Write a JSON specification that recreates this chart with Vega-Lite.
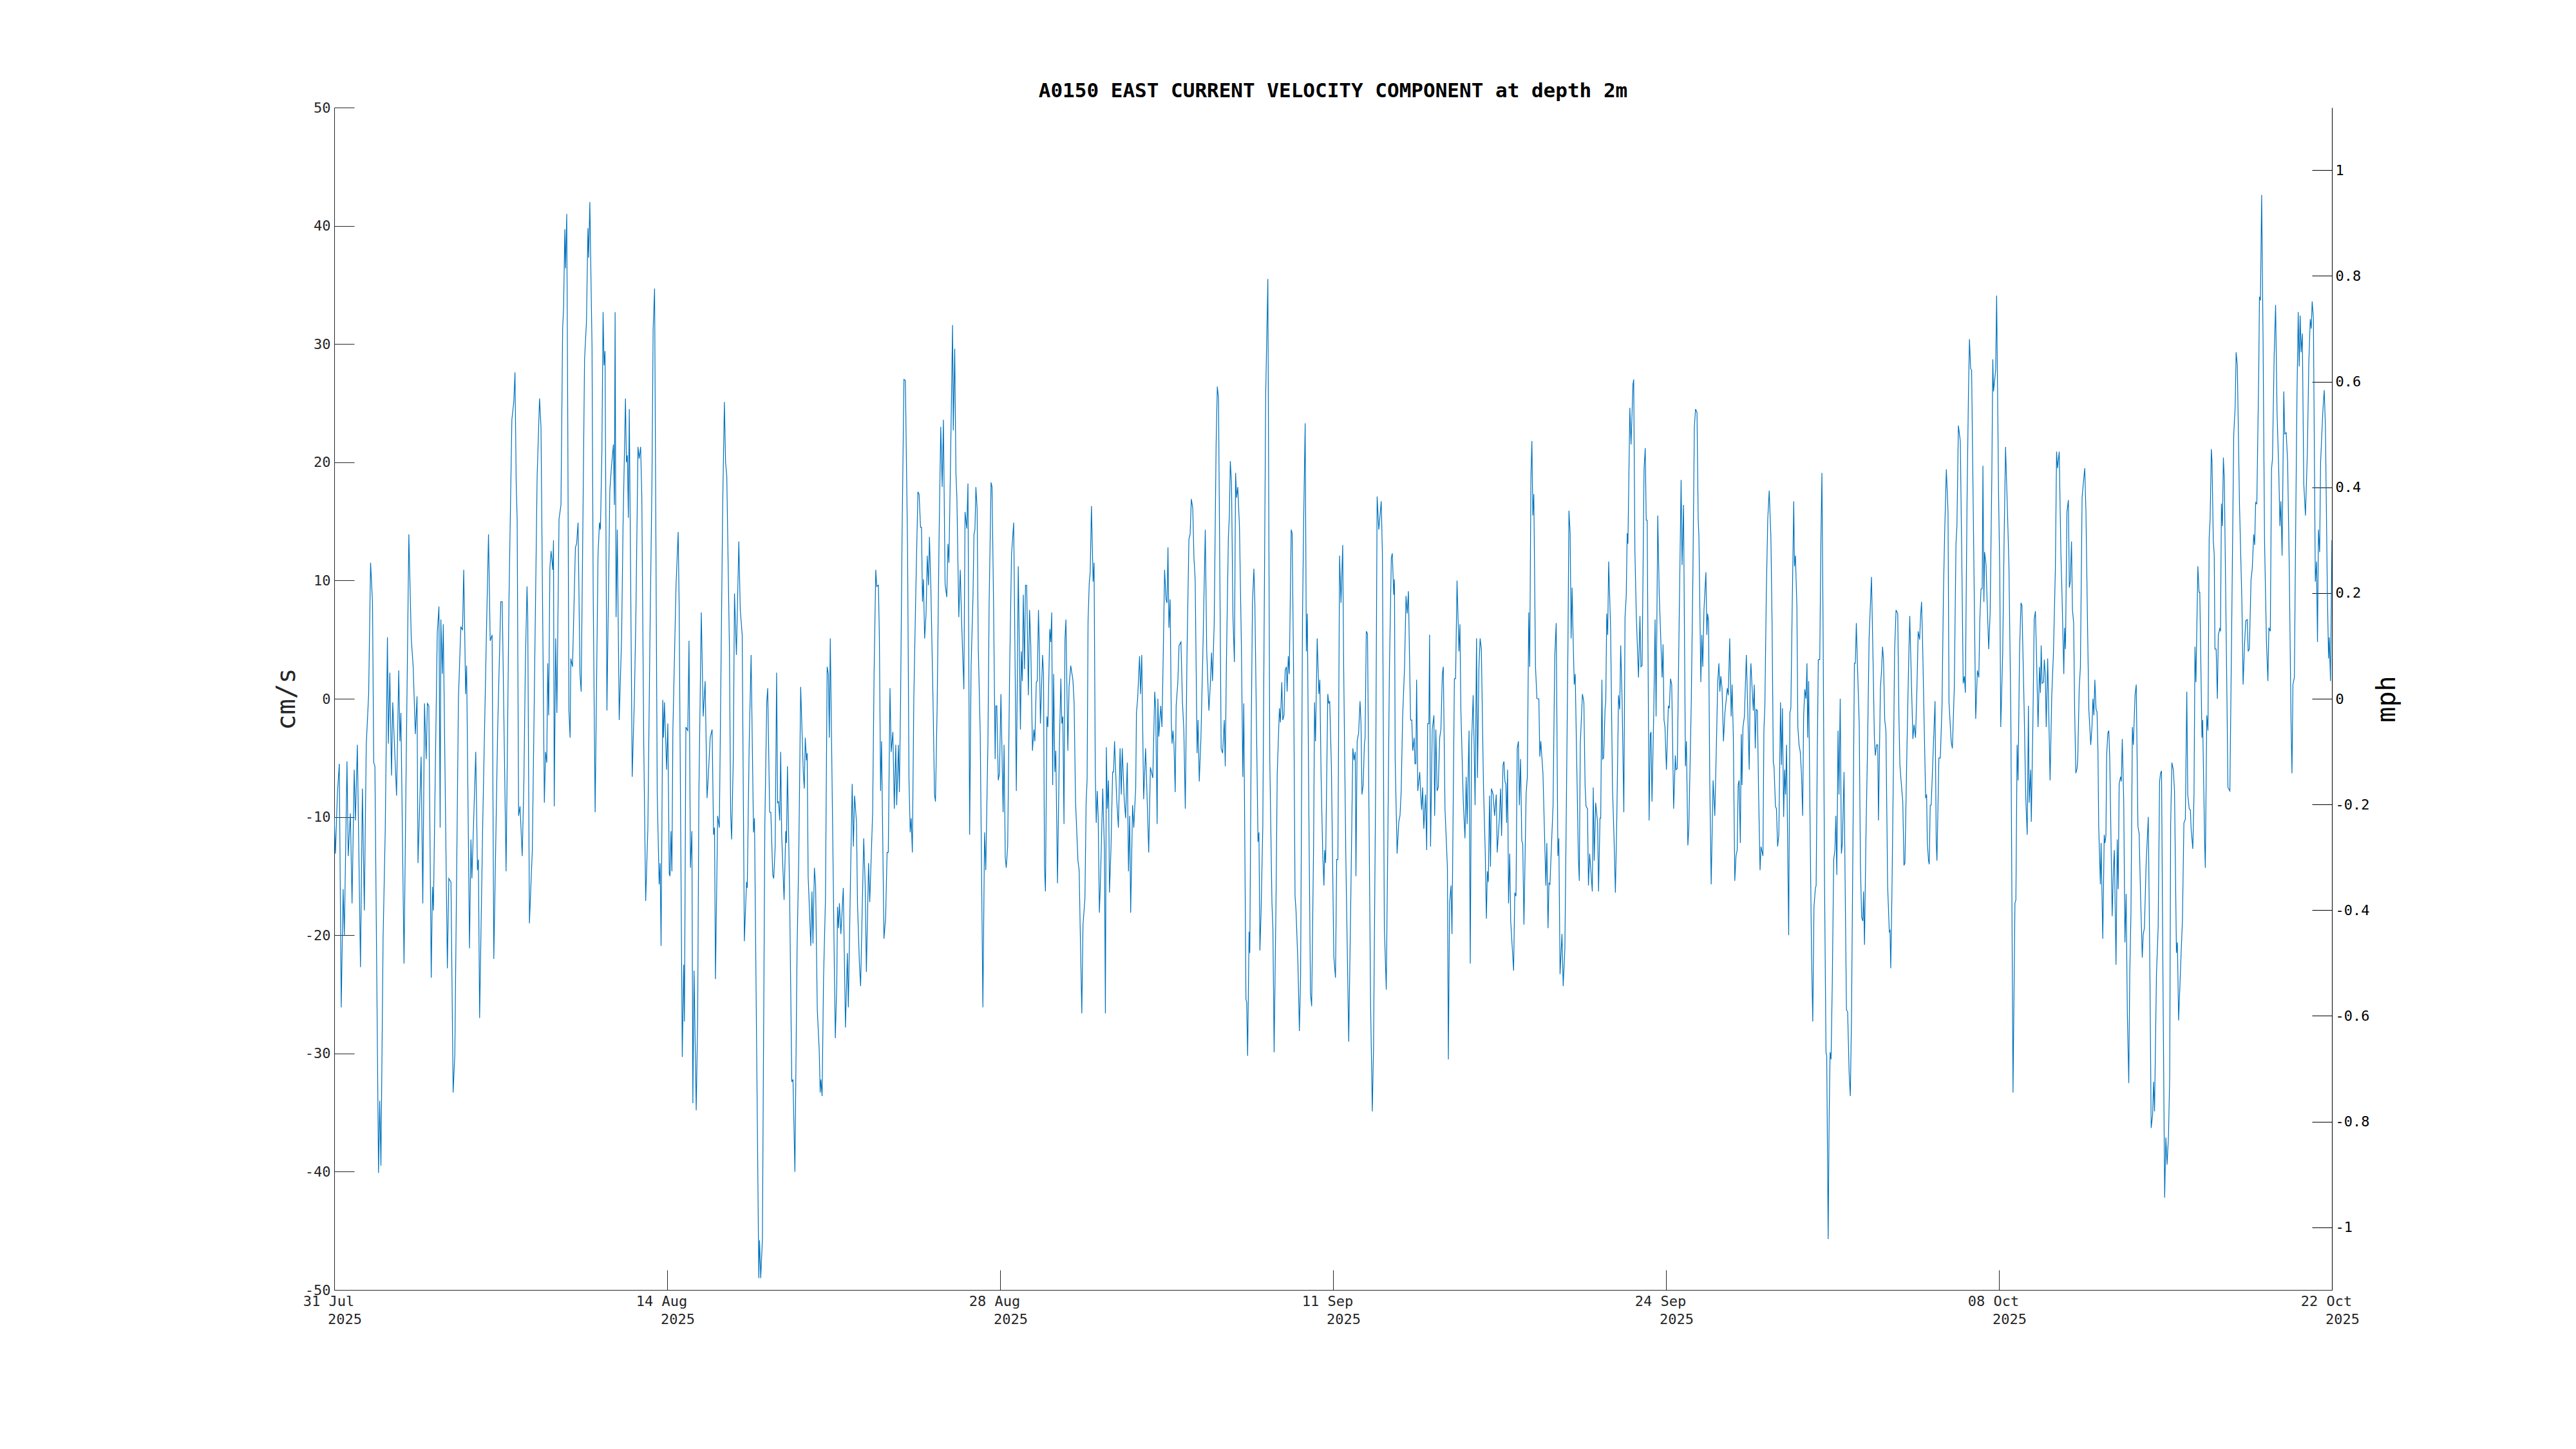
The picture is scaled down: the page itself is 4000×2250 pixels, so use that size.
{
"$schema": "https://vega.github.io/schema/vega-lite/v6.json",
"autosize": {"type": "none"},
"padding": {"left": 519, "top": 167, "right": 379, "bottom": 247},
"width": 3102,
"height": 1836,
"background": "white",
"title": {"text": "A0150 EAST CURRENT VELOCITY COMPONENT at depth 2m", "font": "DejaVu Sans Mono", "fontSize": 31, "fontWeight": "bold", "color": "#000000", "anchor": "middle", "frame": "group", "baseline": "alphabetic", "offset": -26},
"config": {"view": {"stroke": null}, "axis": {"grid": false, "labelOverlap": false, "labelBound": false, "labelFlush": false}},
"data": {"values": [
{"day":0,"v":-10},{"day":0.05,"v":-13.1},{"day":0.13,"v":-8.1},{"day":0.21,"v":-5.5},{"day":0.29,"v":-26.1},{"day":0.37,"v":-16.1},{"day":0.42,"v":-20},{"day":0.53,"v":-5.3},{"day":0.58,"v":-13.3},{"day":0.67,"v":-9.7},{"day":0.74,"v":-17.3},{"day":0.83,"v":-6.0},{"day":0.88,"v":-10.3},{"day":0.96,"v":-3.9},{"day":1.09,"v":-22.7},{"day":1.17,"v":-7.6},{"day":1.25,"v":-17.9},{"day":1.33,"v":-3.9},{"day":1.43,"v":0.4},{"day":1.51,"v":11.5},{"day":1.59,"v":8.2},{"day":1.64,"v":-5.4},{"day":1.69,"v":-5.7},{"day":1.84,"v":-40.1},{"day":1.89,"v":-34.0},{"day":1.94,"v":-39.5},{"day":2.03,"v":-20.3},{"day":2.12,"v":-11.0},{"day":2.21,"v":5.2},{"day":2.25,"v":-3.8},{"day":2.31,"v":2.2},{"day":2.38,"v":-6.5},{"day":2.43,"v":-0.3},{"day":2.59,"v":-8.2},{"day":2.68,"v":2.4},{"day":2.73,"v":-3.6},{"day":2.77,"v":-1.2},{"day":2.90,"v":-22.4},{"day":2.99,"v":-5.4},{"day":3.10,"v":13.9},{"day":3.20,"v":5.1},{"day":3.28,"v":2.7},{"day":3.37,"v":-3.0},{"day":3.44,"v":0.2},{"day":3.48,"v":-13.9},{"day":3.61,"v":-4.9},{"day":3.68,"v":-17.3},{"day":3.75,"v":-0.4},{"day":3.82,"v":-5.1},{"day":3.87,"v":-0.4},{"day":3.93,"v":-0.6},{"day":4.03,"v":-23.6},{"day":4.08,"v":-15.9},{"day":4.12,"v":-17.9},{"day":4.20,"v":-6.0},{"day":4.28,"v":5.5},{"day":4.35,"v":7.8},{"day":4.40,"v":-10.9},{"day":4.43,"v":6.7},{"day":4.49,"v":2.1},{"day":4.53,"v":6.3},{"day":4.70,"v":-22.8},{"day":4.76,"v":-15.2},{"day":4.85,"v":-15.5},{"day":4.94,"v":-33.3},{"day":5.01,"v":-30.1},{"day":5.16,"v":0.0},{"day":5.26,"v":6.1},{"day":5.33,"v":5.8},{"day":5.38,"v":10.9},{"day":5.46,"v":0.4},{"day":5.50,"v":2.8},{"day":5.62,"v":-21.1},{"day":5.68,"v":-11.9},{"day":5.72,"v":-15.2},{"day":5.88,"v":-4.5},{"day":5.95,"v":-14.5},{"day":5.99,"v":-13.6},{"day":6.04,"v":-27.0},{"day":6.17,"v":-10.5},{"day":6.32,"v":5.2},{"day":6.41,"v":13.9},{"day":6.48,"v":4.9},{"day":6.56,"v":5.4},{"day":6.63,"v":-22.0},{"day":6.79,"v":-2.6},{"day":6.92,"v":8.2},{"day":6.98,"v":8.2},{"day":7.14,"v":-14.6},{"day":7.26,"v":8.3},{"day":7.38,"v":23.6},{"day":7.46,"v":25.1},{"day":7.51,"v":27.6},{"day":7.56,"v":18.2},{"day":7.60,"v":15.2},{"day":7.66,"v":-9.9},{"day":7.72,"v":-9.1},{"day":7.81,"v":-13.3},{"day":7.88,"v":-7.0},{"day":7.94,"v":2.8},{"day":8.01,"v":9.5},{"day":8.04,"v":6.9},{"day":8.11,"v":-19.0},{"day":8.23,"v":-12.8},{"day":8.43,"v":18.8},{"day":8.53,"v":25.4},{"day":8.59,"v":23.0},{"day":8.73,"v":-8.8},{"day":8.78,"v":-4.5},{"day":8.83,"v":-5.4},{"day":8.87,"v":3.0},{"day":8.91,"v":-1.4},{"day":8.96,"v":11.1},{"day":9.01,"v":12.5},{"day":9.08,"v":10.9},{"day":9.11,"v":13.4},{"day":9.14,"v":-9.1},{"day":9.20,"v":5.1},{"day":9.25,"v":-1.2},{"day":9.34,"v":15.2},{"day":9.42,"v":16.4},{"day":9.49,"v":31.3},{"day":9.53,"v":33.1},{"day":9.58,"v":39.7},{"day":9.61,"v":36.4},{"day":9.66,"v":41.0},{"day":9.70,"v":24.8},{"day":9.75,"v":-1.0},{"day":9.80,"v":-3.3},{"day":9.83,"v":3.4},{"day":9.90,"v":2.7},{"day":10.02,"v":12.8},{"day":10.07,"v":13.1},{"day":10.13,"v":14.9},{"day":10.21,"v":2.1},{"day":10.26,"v":0.6},{"day":10.40,"v":28.7},{"day":10.48,"v":31.9},{"day":10.54,"v":39.8},{"day":10.57,"v":37.3},{"day":10.62,"v":42.0},{"day":10.71,"v":29.8},{"day":10.76,"v":8.7},{"day":10.84,"v":-9.6},{"day":10.96,"v":12.2},{"day":11.02,"v":14.9},{"day":11.06,"v":14.3},{"day":11.12,"v":20.9},{"day":11.17,"v":32.7},{"day":11.21,"v":28.2},{"day":11.25,"v":29.4},{"day":11.33,"v":-1.0},{"day":11.45,"v":17.6},{"day":11.52,"v":19.7},{"day":11.60,"v":21.5},{"day":11.64,"v":16.4},{"day":11.67,"v":32.7},{"day":11.71,"v":6.9},{"day":11.76,"v":14.3},{"day":11.84,"v":-1.8},{"day":11.94,"v":5.2},{"day":12.00,"v":14.7},{"day":12.10,"v":25.4},{"day":12.14,"v":20.0},{"day":12.18,"v":20.6},{"day":12.22,"v":15.3},{"day":12.26,"v":24.5},{"day":12.38,"v":-6.6},{"day":12.47,"v":0.0},{"day":12.53,"v":6.6},{"day":12.62,"v":21.3},{"day":12.67,"v":20.3},{"day":12.73,"v":21.3},{"day":12.78,"v":17.0},{"day":12.86,"v":-3.9},{"day":12.94,"v":-17.1},{"day":13.03,"v":-11.0},{"day":13.12,"v":5.7},{"day":13.20,"v":18.2},{"day":13.25,"v":31.3},{"day":13.31,"v":34.7},{"day":13.42,"v":-8.1},{"day":13.50,"v":-15.7},{"day":13.54,"v":-13.9},{"day":13.58,"v":-20.9},{"day":13.65,"v":-0.1},{"day":13.68,"v":-3.3},{"day":13.72,"v":-0.3},{"day":13.81,"v":-6.0},{"day":13.86,"v":-2.1},{"day":13.92,"v":-14.8},{"day":13.95,"v":-15.0},{"day":13.99,"v":-11.2},{"day":14.03,"v":-14.6},{"day":14.07,"v":-2.7},{"day":14.20,"v":9.5},{"day":14.29,"v":14.1},{"day":14.33,"v":8.0},{"day":14.46,"v":-30.3},{"day":14.52,"v":-22.5},{"day":14.55,"v":-27.3},{"day":14.61,"v":-2.4},{"day":14.69,"v":-2.7},{"day":14.74,"v":4.9},{"day":14.80,"v":-14.3},{"day":14.86,"v":-11.2},{"day":14.90,"v":-34.2},{"day":14.95,"v":-23.0},{"day":15.04,"v":-34.8},{"day":15.10,"v":-26.9},{"day":15.15,"v":-8.1},{"day":15.25,"v":7.3},{"day":15.33,"v":-1.5},{"day":15.41,"v":1.5},{"day":15.49,"v":-8.4},{"day":15.53,"v":-7.0},{"day":15.62,"v":-3.3},{"day":15.70,"v":-2.6},{"day":15.76,"v":-11.5},{"day":15.80,"v":-10.9},{"day":15.84,"v":-23.7},{"day":15.93,"v":-9.9},{"day":16.00,"v":-10.9},{"day":16.14,"v":16.4},{"day":16.21,"v":25.1},{"day":16.26,"v":20.0},{"day":16.31,"v":18.8},{"day":16.42,"v":4.2},{"day":16.47,"v":-9.7},{"day":16.51,"v":-11.9},
{"day":16.58,"v":-5.1},{"day":16.63,"v":8.9},{"day":16.71,"v":3.7},{"day":16.81,"v":13.3},{"day":16.87,"v":7.5},{"day":16.95,"v":5.4},{"day":17.04,"v":-20.5},{"day":17.13,"v":-15.5},{"day":17.16,"v":-16.0},{"day":17.24,"v":-3.9},{"day":17.32,"v":3.7},{"day":17.42,"v":-11.3},{"day":17.46,"v":-10.1},{"day":17.64,"v":-49.0},{"day":17.67,"v":-45.8},{"day":17.72,"v":-49.0},{"day":17.79,"v":-45.7},{"day":17.89,"v":-10.8},{"day":17.97,"v":-0.3},{"day":18.01,"v":0.9},{"day":18.09,"v":-9.6},{"day":18.14,"v":-9.6},{"day":18.22,"v":-14.9},{"day":18.26,"v":-15.2},{"day":18.32,"v":-12.5},{"day":18.38,"v":2.2},{"day":18.42,"v":-8.8},{"day":18.46,"v":-8.7},{"day":18.51,"v":-10.3},{"day":18.55,"v":-4.5},{"day":18.59,"v":-11.5},{"day":18.69,"v":-17.0},{"day":18.76,"v":-11.2},{"day":18.79,"v":-12.2},{"day":18.83,"v":-5.7},{"day":18.92,"v":-16.4},{"day":19.01,"v":-32.4},{"day":19.06,"v":-32.2},{"day":19.14,"v":-40.0},{"day":19.23,"v":-21.2},{"day":19.30,"v":-13.4},{"day":19.38,"v":1.0},{"day":19.49,"v":-6.3},{"day":19.53,"v":-7.6},{"day":19.57,"v":-3.3},{"day":19.62,"v":-5.2},{"day":19.65,"v":-4.6},{"day":19.69,"v":-15.0},{"day":19.74,"v":-17.6},{"day":19.80,"v":-20.9},{"day":19.85,"v":-16.3},{"day":19.89,"v":-20.7},{"day":19.95,"v":-14.3},{"day":20.00,"v":-15.8},{"day":20.07,"v":-26.3},{"day":20.15,"v":-29.7},{"day":20.19,"v":-33.3},{"day":20.22,"v":-32.2},{"day":20.27,"v":-33.6},{"day":20.33,"v":-23.6},{"day":20.41,"v":-16.9},{"day":20.48,"v":2.7},{"day":20.53,"v":2.1},{"day":20.57,"v":-3.3},{"day":20.61,"v":5.1},{"day":20.71,"v":-11.3},{"day":20.78,"v":-23.0},{"day":20.82,"v":-28.7},{"day":20.88,"v":-24.1},{"day":20.91,"v":-17.6},{"day":20.95,"v":-19.4},{"day":20.99,"v":-17.3},{"day":21.05,"v":-19.9},{"day":21.15,"v":-16.0},{"day":21.24,"v":-27.8},{"day":21.32,"v":-21.5},{"day":21.36,"v":-26.1},{"day":21.45,"v":-15.2},{"day":21.52,"v":-7.2},{"day":21.57,"v":-12.5},{"day":21.62,"v":-8.2},{"day":21.70,"v":-10.5},{"day":21.74,"v":-17.3},{"day":21.82,"v":-22.4},{"day":21.87,"v":-24.3},{"day":21.92,"v":-19.4},{"day":22.00,"v":-11.8},{"day":22.06,"v":-15.8},{"day":22.11,"v":-23.1},{"day":22.20,"v":-13.9},{"day":22.25,"v":-17.2},{"day":22.37,"v":-9.6},{"day":22.43,"v":2.2},{"day":22.50,"v":10.9},{"day":22.54,"v":9.5},{"day":22.61,"v":9.6},{"day":22.65,"v":5.1},{"day":22.70,"v":-7.8},{"day":22.74,"v":-3.6},{"day":22.84,"v":-20.3},{"day":22.91,"v":-18.5},{"day":22.97,"v":-13.0},{"day":23.02,"v":-13.0},{"day":23.09,"v":0.9},{"day":23.14,"v":-4.5},{"day":23.21,"v":-2.8},{"day":23.27,"v":-9.3},{"day":23.33,"v":-3.9},{"day":23.37,"v":-9.0},{"day":23.44,"v":-3.9},{"day":23.48,"v":-7.9},{"day":23.53,"v":-0.3},{"day":23.59,"v":13.4},{"day":23.67,"v":27.0},{"day":23.73,"v":26.9},{"day":23.82,"v":12.8},{"day":23.88,"v":-6.9},{"day":23.93,"v":-11.3},{"day":23.97,"v":-10.1},{"day":24.02,"v":-13.0},{"day":24.08,"v":0.0},{"day":24.16,"v":8.7},{"day":24.25,"v":17.5},{"day":24.30,"v":17.3},{"day":24.36,"v":14.5},{"day":24.40,"v":14.5},{"day":24.44,"v":8.2},{"day":24.48,"v":10.1},{"day":24.53,"v":5.1},{"day":24.59,"v":7.2},{"day":24.64,"v":12.1},{"day":24.69,"v":9.6},{"day":24.73,"v":13.7},{"day":24.79,"v":9.3},{"day":24.88,"v":-0.3},{"day":24.94,"v":-8.1},{"day":24.98,"v":-8.7},{"day":25.05,"v":-0.6},{"day":25.13,"v":13.7},{"day":25.20,"v":23.0},{"day":25.26,"v":17.9},{"day":25.31,"v":23.6},{"day":25.38,"v":9.7},{"day":25.45,"v":8.6},{"day":25.50,"v":13.1},{"day":25.54,"v":11.5},{"day":25.61,"v":20.6},{"day":25.69,"v":31.6},{"day":25.72,"v":22.7},{"day":25.78,"v":29.6},{"day":25.83,"v":19.1},{"day":25.87,"v":17.0},{"day":25.95,"v":6.9},{"day":26.01,"v":10.9},{"day":26.07,"v":6.3},{"day":26.16,"v":0.8},{"day":26.21,"v":15.8},{"day":26.28,"v":14.4},{"day":26.33,"v":18.2},{"day":26.40,"v":-11.5},{"day":26.46,"v":2.7},{"day":26.54,"v":8.7},{"day":26.58,"v":13.9},{"day":26.62,"v":14.3},{"day":26.66,"v":17.9},{"day":26.71,"v":16.1},{"day":26.76,"v":4.2},{"day":26.84,"v":-3.0},{"day":26.95,"v":-26.1},{"day":27.02,"v":-11.3},{"day":27.07,"v":-14.5},{"day":27.16,"v":-3.6},{"day":27.21,"v":8.1},{"day":27.29,"v":18.3},{"day":27.33,"v":17.9},{"day":27.39,"v":8.7},{"day":27.46,"v":-5.1},{"day":27.49,"v":-0.6},{"day":27.53,"v":-0.6},{"day":27.59,"v":-6.9},{"day":27.64,"v":-6.3},{"day":27.70,"v":0.4},{"day":27.79,"v":-9.6},{"day":27.83,"v":-3.9},{"day":27.88,"v":-13.4},{"day":27.92,"v":-14.3},{"day":27.98,"v":-12.5},{"day":28.06,"v":2.1},{"day":28.14,"v":12.2},{"day":28.23,"v":14.9},{"day":28.34,"v":-7.8},{"day":28.42,"v":11.2},{"day":28.51,"v":-2.6},{"day":28.55,"v":4.0},{"day":28.59,"v":1.5},{"day":28.63,"v":8.8},{"day":28.68,"v":2.5},{"day":28.72,"v":9.6},{"day":28.77,"v":9.6},{"day":28.84,"v":0.3},{"day":28.89,"v":7.5},{"day":28.94,"v":4.5},{"day":29.01,"v":-4.4},{"day":29.07,"v":-2.6},{"day":29.11,"v":-3.6},{"day":29.17,"v":1.4},{"day":29.21,"v":1.5},{"day":29.26,"v":7.5},{"day":29.30,"v":3.9},{"day":29.34,"v":-2.1},{"day":29.43,"v":3.7},{"day":29.47,"v":2.1},{"day":29.51,"v":-14.3},{"day":29.55,"v":-16.3},{"day":29.61,"v":-1.5},{"day":29.65,"v":-2.4},{"day":29.73,"v":5.9},{"day":29.77,"v":4.8},{"day":29.81,"v":7.3},{"day":29.85,"v":-7.3},{"day":29.89,"v":2.1},{"day":29.94,"v":-6.2},{"day":29.98,"v":-4.4},{"day":30.05,"v":-15.6},{"day":30.13,"v":-3.9},{"day":30.19,"v":1.7},{"day":30.23,"v":-2.1},{"day":30.27,"v":-1.5},{"day":30.32,"v":-10.6},{"day":30.36,"v":5.0},{"day":30.40,"v":6.7},{"day":30.48,"v":-4.4},{"day":30.53,"v":1.0},{"day":30.60,"v":2.8},{"day":30.69,"v":1.6},{"day":30.74,"v":-0.3},{"day":30.80,"v":-8.7},{"day":30.90,"v":-13.7},{"day":30.95,"v":-14.5},{"day":30.99,"v":-19.1},{"day":31.06,"v":-26.6},{"day":31.11,"v":-19.1},{"day":31.19,"v":-16.9},{"day":31.24,"v":-8.7},{"day":31.28,"v":-6.9},{"day":31.32,"v":6.6},{"day":31.37,"v":9.8},{"day":31.41,"v":10.7},{"day":31.46,"v":16.3},{"day":31.53,"v":9.9},{"day":31.57,"v":11.5},{"day":31.62,"v":-6.3},{"day":31.66,"v":-10.5},{"day":31.70,"v":-7.8},{"day":31.74,"v":-9.9},{"day":31.79,"v":-18.1},{"day":31.83,"v":-15.8},{"day":31.93,"v":-7.6},{"day":32.00,"v":-12.8},{"day":32.04,"v":-26.6},{"day":32.08,"v":-4.1},{"day":32.12,"v":-9.3},{"day":32.17,"v":-6.9},{"day":32.21,"v":-16.4},{"day":32.27,"v":-12.8},{"day":32.34,"v":-6.2},{"day":32.38,"v":-6.2},{"day":32.42,"v":-3.6},{"day":32.51,"v":-8.5},{"day":32.58,"v":-10.9},{"day":32.65,"v":-4.2},{"day":32.70,"v":-8.1},{"day":32.74,"v":-4.2},{"day":32.82,"v":-8.4},{"day":32.88,"v":-10.1},{"day":32.95,"v":-5.4},{"day":33.00,"v":-14.6},{"day":33.05,"v":-9.9},{"day":33.09,"v":-18.1},
{"day":33.17,"v":-9.0},{"day":33.22,"v":-10.9},{"day":33.30,"v":-7.5},{"day":33.33,"v":-1.2},{"day":33.38,"v":0.0},{"day":33.46,"v":3.6},{"day":33.50,"v":0.4},{"day":33.55,"v":3.7},{"day":33.63,"v":-8.5},{"day":33.71,"v":-4.2},{"day":33.76,"v":-7.5},{"day":33.84,"v":-13.0},{"day":33.91,"v":-5.8},{"day":34.01,"v":-6.7},{"day":34.09,"v":0.6},{"day":34.13,"v":-0.8},{"day":34.19,"v":-10.6},{"day":34.22,"v":0.0},{"day":34.26,"v":-3.2},{"day":34.34,"v":-0.6},{"day":34.39,"v":-2.4},{"day":34.43,"v":2.1},{"day":34.50,"v":10.9},{"day":34.56,"v":8.4},{"day":34.60,"v":8.1},{"day":34.64,"v":12.8},{"day":34.68,"v":6.0},{"day":34.73,"v":8.4},{"day":34.78,"v":-2.1},{"day":34.81,"v":-3.8},{"day":34.85,"v":-2.7},{"day":34.89,"v":-3.9},{"day":34.94,"v":-7.9},{"day":34.98,"v":-0.6},{"day":35.05,"v":1.4},{"day":35.10,"v":4.5},{"day":35.18,"v":4.8},{"day":35.24,"v":-0.2},{"day":35.30,"v":-2.7},{"day":35.36,"v":-9.3},{"day":35.43,"v":3.7},{"day":35.51,"v":13.5},{"day":35.56,"v":13.9},{"day":35.61,"v":16.9},{"day":35.67,"v":16.1},{"day":35.72,"v":11.9},{"day":35.77,"v":10.1},{"day":35.85,"v":-4.6},{"day":35.89,"v":-1.8},{"day":35.94,"v":-7.0},{"day":36.01,"v":-3.3},{"day":36.09,"v":3.9},{"day":36.19,"v":14.3},{"day":36.25,"v":4.0},{"day":36.34,"v":-1.0},{"day":36.40,"v":1.2},{"day":36.45,"v":3.9},{"day":36.49,"v":1.5},{"day":36.56,"v":6.3},{"day":36.64,"v":21.5},{"day":36.69,"v":26.4},{"day":36.74,"v":25.4},{"day":36.85,"v":-4.2},{"day":36.91,"v":-4.6},{"day":36.98,"v":-1.8},{"day":37.02,"v":-5.7},{"day":37.07,"v":3.3},{"day":37.15,"v":13.7},{"day":37.19,"v":15.4},{"day":37.23,"v":20.1},{"day":37.28,"v":18.2},{"day":37.34,"v":6.9},{"day":37.40,"v":3.1},{"day":37.45,"v":19.1},{"day":37.49,"v":17.0},{"day":37.54,"v":17.9},{"day":37.61,"v":14.6},{"day":37.69,"v":4.5},{"day":37.75,"v":-6.6},{"day":37.79,"v":-0.4},{"day":37.88,"v":-25.4},{"day":37.91,"v":-25.7},{"day":37.95,"v":-30.2},{"day":38.01,"v":-19.7},{"day":38.04,"v":-21.5},{"day":38.10,"v":-2.7},{"day":38.15,"v":8.1},{"day":38.21,"v":11.0},{"day":38.25,"v":8.1},{"day":38.32,"v":-2.7},{"day":38.38,"v":-12.1},{"day":38.42,"v":-11.3},{"day":38.46,"v":-21.3},{"day":38.51,"v":-17.9},{"day":38.58,"v":-10.8},{"day":38.63,"v":4.2},{"day":38.70,"v":25.7},{"day":38.79,"v":35.5},{"day":38.87,"v":-5.1},{"day":38.96,"v":-17.3},{"day":39.00,"v":-19.4},{"day":39.05,"v":-29.9},{"day":39.13,"v":-17.0},{"day":39.18,"v":-6.3},{"day":39.27,"v":-0.8},{"day":39.31,"v":-2.0},{"day":39.37,"v":1.4},{"day":39.41,"v":-1.8},{"day":39.46,"v":-1.4},{"day":39.51,"v":2.4},{"day":39.56,"v":2.7},{"day":39.59,"v":0.6},{"day":39.64,"v":3.6},{"day":39.68,"v":2.1},{"day":39.76,"v":14.3},{"day":39.80,"v":14.0},{"day":39.86,"v":2.1},{"day":39.92,"v":-16.7},{"day":39.96,"v":-17.9},{"day":40.04,"v":-22.4},{"day":40.10,"v":-28.1},{"day":40.15,"v":-23.6},{"day":40.23,"v":6.9},{"day":40.28,"v":15.4},{"day":40.34,"v":23.3},{"day":40.39,"v":4.0},{"day":40.43,"v":7.2},{"day":40.49,"v":-8.7},{"day":40.56,"v":-24.9},{"day":40.61,"v":-26.0},{"day":40.69,"v":-12.5},{"day":40.73,"v":-0.3},{"day":40.77,"v":-3.6},{"day":40.84,"v":5.1},{"day":40.91,"v":0.4},{"day":40.95,"v":1.6},{"day":41.00,"v":-6.3},{"day":41.07,"v":-13.1},{"day":41.12,"v":-15.8},{"day":41.15,"v":-12.8},{"day":41.19,"v":-13.9},{"day":41.28,"v":0.4},{"day":41.32,"v":-0.4},{"day":41.36,"v":-0.2},{"day":41.43,"v":-5.7},{"day":41.53,"v":-21.8},{"day":41.60,"v":-23.6},{"day":41.65,"v":-13.6},{"day":41.70,"v":-13.6},{"day":41.77,"v":12.1},{"day":41.83,"v":8.1},{"day":41.90,"v":13.0},{"day":41.94,"v":2.7},{"day":42.03,"v":-13.4},{"day":42.15,"v":-29.0},{"day":42.24,"v":-16.4},{"day":42.32,"v":-4.2},{"day":42.37,"v":-5.2},{"day":42.42,"v":-4.5},{"day":42.45,"v":-15.0},{"day":42.50,"v":-3.6},{"day":42.56,"v":-2.9},{"day":42.62,"v":-0.2},{"day":42.66,"v":-2.1},{"day":42.70,"v":-8.1},{"day":42.75,"v":-7.3},{"day":42.80,"v":-3.9},{"day":42.83,"v":-3.3},{"day":42.88,"v":5.7},{"day":42.93,"v":5.5},{"day":43.01,"v":-14.0},{"day":43.06,"v":-26.0},{"day":43.13,"v":-34.9},{"day":43.18,"v":-29.6},{"day":43.27,"v":-6.9},{"day":43.33,"v":17.1},{"day":43.40,"v":14.3},{"day":43.50,"v":16.7},{"day":43.55,"v":12.2},{"day":43.63,"v":-19.4},{"day":43.71,"v":-24.6},{"day":43.78,"v":-10.8},{"day":43.84,"v":2.4},{"day":43.92,"v":11.9},{"day":43.96,"v":12.3},{"day":44.02,"v":8.8},{"day":44.05,"v":10.1},{"day":44.08,"v":-5.1},{"day":44.16,"v":-13.1},{"day":44.23,"v":-10.4},{"day":44.28,"v":-9.9},{"day":44.33,"v":-7.8},{"day":44.39,"v":-1.5},{"day":44.47,"v":2.7},{"day":44.53,"v":8.7},{"day":44.58,"v":7.2},{"day":44.63,"v":9.1},{"day":44.72,"v":-1.8},{"day":44.77,"v":-1.8},{"day":44.81,"v":-4.4},{"day":44.87,"v":-3.3},{"day":44.90,"v":-5.5},{"day":44.94,"v":-5.5},{"day":44.97,"v":1.6},{"day":45.02,"v":-7.8},{"day":45.10,"v":-6.2},{"day":45.14,"v":-8.1},{"day":45.18,"v":-9.4},{"day":45.22,"v":-7.5},{"day":45.27,"v":-11.0},{"day":45.34,"v":-8.1},{"day":45.39,"v":-12.8},{"day":45.43,"v":-2.1},{"day":45.48,"v":-2.1},{"day":45.51,"v":5.4},{"day":45.55,"v":-12.5},{"day":45.62,"v":-2.6},{"day":45.69,"v":-1.4},{"day":45.72,"v":-9.9},{"day":45.77,"v":-2.6},{"day":45.82,"v":-7.8},{"day":45.87,"v":-7.5},{"day":45.93,"v":-3.3},{"day":45.98,"v":-2.6},{"day":46.04,"v":2.1},{"day":46.08,"v":2.7},{"day":46.15,"v":-9.3},{"day":46.25,"v":-14.3},{"day":46.29,"v":-30.5},{"day":46.34,"v":-17.3},{"day":46.40,"v":-15.8},{"day":46.44,"v":-19.9},{"day":46.54,"v":1.7},{"day":46.59,"v":1.7},{"day":46.65,"v":10.0},{"day":46.73,"v":4.0},{"day":46.77,"v":6.3},{"day":46.81,"v":-1.0},{"day":46.91,"v":-8.7},{"day":46.98,"v":-11.8},{"day":47.03,"v":-6.6},{"day":47.07,"v":-10.6},{"day":47.15,"v":-2.7},{"day":47.20,"v":-22.4},{"day":47.25,"v":-4.1},{"day":47.32,"v":0.3},{"day":47.36,"v":-3.9},{"day":47.40,"v":-9.0},{"day":47.46,"v":5.1},{"day":47.50,"v":-6.7},{"day":47.56,"v":2.7},{"day":47.61,"v":5.1},{"day":47.66,"v":4.2},{"day":47.75,"v":-7.5},{"day":47.82,"v":-12.8},{"day":47.87,"v":-18.6},{"day":47.91,"v":-14.6},{"day":47.95,"v":-15.5},{"day":48.00,"v":-8.2},{"day":48.04,"v":-14.2},{"day":48.08,"v":-7.6},{"day":48.15,"v":-8.1},{"day":48.21,"v":-9.9},{"day":48.28,"v":-8.1},{"day":48.32,"v":-13.0},{"day":48.41,"v":-10.1},{"day":48.46,"v":-7.6},{"day":48.50,"v":-11.6},{"day":48.56,"v":-5.6},{"day":48.60,"v":-5.3},{"day":48.64,"v":-7.0},{"day":48.68,"v":-7.2},{"day":48.71,"v":-10.5},{"day":48.75,"v":-6.0},{"day":48.79,"v":-17.3},{"day":48.84,"v":-13.1},{"day":48.88,"v":-18.8},{"day":49.00,"v":-23.0},{"day":49.05,"v":-16.4},{"day":49.10,"v":-16.7},{"day":49.15,"v":-4.2},{"day":49.20,"v":-3.6},{"day":49.24,"v":-9.0},{"day":49.29,"v":-5.1},{"day":49.34,"v":-12.0},{"day":49.38,"v":-12.3},{"day":49.43,"v":-19.1},{"day":49.52,"v":-8.1},{"day":49.57,"v":-6.6},{"day":49.63,"v":7.3},{"day":49.67,"v":2.7},{"day":49.72,"v":18.8},
{"day":49.76,"v":21.8},{"day":49.80,"v":15.5},{"day":49.84,"v":17.3},{"day":49.91,"v":2.7},{"day":49.97,"v":0.0},{"day":50.05,"v":0.0},{"day":50.09,"v":-4.9},{"day":50.13,"v":-3.6},{"day":50.22,"v":-6.3},{"day":50.34,"v":-15.8},{"day":50.38,"v":-12.2},{"day":50.43,"v":-19.4},{"day":50.47,"v":-15.6},{"day":50.51,"v":-15.7},{"day":50.64,"v":-9.0},{"day":50.71,"v":3.6},{"day":50.77,"v":6.4},{"day":50.84,"v":-13.3},{"day":50.88,"v":-11.8},{"day":50.93,"v":-23.3},{"day":51.01,"v":-19.9},{"day":51.06,"v":-24.3},{"day":51.13,"v":-21.2},{"day":51.20,"v":-7.5},{"day":51.26,"v":4.9},{"day":51.30,"v":15.9},{"day":51.35,"v":14.0},{"day":51.39,"v":5.1},{"day":51.43,"v":9.4},{"day":51.48,"v":4.5},{"day":51.52,"v":1.2},{"day":51.56,"v":2.1},{"day":51.69,"v":-13.3},{"day":51.73,"v":-15.4},{"day":51.77,"v":-3.9},{"day":51.86,"v":0.4},{"day":51.92,"v":-0.3},{"day":51.97,"v":-7.3},{"day":52.01,"v":-9.1},{"day":52.07,"v":-9.3},{"day":52.11,"v":-15.8},{"day":52.16,"v":-13.1},{"day":52.27,"v":-16.3},{"day":52.31,"v":-7.5},{"day":52.35,"v":-13.7},{"day":52.41,"v":-8.8},{"day":52.49,"v":-10.5},{"day":52.53,"v":-16.3},{"day":52.59,"v":-10.1},{"day":52.62,"v":-10.1},{"day":52.67,"v":1.6},{"day":52.70,"v":-5.1},{"day":52.74,"v":-5.0},{"day":52.80,"v":-0.9},{"day":52.83,"v":-0.2},{"day":52.87,"v":7.2},{"day":52.91,"v":5.4},{"day":52.95,"v":11.6},{"day":53.03,"v":6.0},{"day":53.11,"v":-7.6},{"day":53.17,"v":-11.6},{"day":53.23,"v":-16.4},{"day":53.29,"v":-9.9},{"day":53.36,"v":0.3},{"day":53.41,"v":-0.9},{"day":53.45,"v":4.5},{"day":53.51,"v":-0.3},{"day":53.58,"v":-9.6},{"day":53.63,"v":6.9},{"day":53.68,"v":8.7},{"day":53.72,"v":14.0},{"day":53.75,"v":13.1},{"day":53.83,"v":24.6},{"day":53.88,"v":21.5},{"day":53.96,"v":26.6},{"day":53.99,"v":27.0},{"day":54.04,"v":12.5},{"day":54.10,"v":6.9},{"day":54.19,"v":1.8},{"day":54.25,"v":7.0},{"day":54.29,"v":2.7},{"day":54.34,"v":2.8},{"day":54.42,"v":19.4},{"day":54.47,"v":21.2},{"day":54.51,"v":15.1},{"day":54.55,"v":15.1},{"day":54.63,"v":-10.3},{"day":54.68,"v":-3.0},{"day":54.71,"v":-2.8},{"day":54.75,"v":-8.7},{"day":54.82,"v":-1.5},{"day":54.88,"v":6.7},{"day":54.92,"v":-1.5},{"day":54.99,"v":15.5},{"day":55.05,"v":8.9},{"day":55.17,"v":1.8},{"day":55.21,"v":4.6},{"day":55.25,"v":-1.8},{"day":55.29,"v":-2.4},{"day":55.35,"v":-6.0},{"day":55.43,"v":-0.6},{"day":55.47,"v":-0.8},{"day":55.52,"v":1.7},{"day":55.57,"v":1.2},{"day":55.65,"v":-9.3},{"day":55.72,"v":-4.8},{"day":55.75,"v":-6.0},{"day":55.80,"v":-5.9},{"day":55.88,"v":6.7},{"day":55.96,"v":18.5},{"day":56.00,"v":11.3},{"day":56.06,"v":16.4},{"day":56.14,"v":-5.7},{"day":56.18,"v":-3.6},{"day":56.24,"v":-12.4},{"day":56.28,"v":-11.0},{"day":56.38,"v":-0.6},{"day":56.45,"v":10.5},{"day":56.51,"v":23.0},{"day":56.56,"v":24.5},{"day":56.62,"v":24.2},{"day":56.67,"v":15.2},{"day":56.70,"v":13.7},{"day":56.78,"v":1.4},{"day":56.82,"v":5.4},{"day":56.86,"v":2.7},{"day":56.91,"v":7.5},{"day":56.99,"v":10.7},{"day":57.03,"v":5.4},{"day":57.06,"v":7.2},{"day":57.10,"v":6.6},{"day":57.15,"v":-6.9},{"day":57.21,"v":-15.7},{"day":57.29,"v":-6.9},{"day":57.36,"v":-9.9},{"day":57.43,"v":-3.6},{"day":57.48,"v":1.4},{"day":57.53,"v":3.0},{"day":57.57,"v":0.6},{"day":57.61,"v":1.9},{"day":57.66,"v":0.9},{"day":57.72,"v":-3.6},{"day":57.78,"v":-1.2},{"day":57.88,"v":0.9},{"day":57.92,"v":0.3},{"day":57.98,"v":5.1},{"day":58.04,"v":-1.5},{"day":58.08,"v":1.2},{"day":58.13,"v":-3.3},{"day":58.19,"v":-15.4},{"day":58.24,"v":-13.3},{"day":58.29,"v":-12.8},{"day":58.33,"v":-7.3},{"day":58.37,"v":-6.9},{"day":58.42,"v":-12.2},{"day":58.46,"v":-3.0},{"day":58.49,"v":-7.3},{"day":58.53,"v":-2.4},{"day":58.59,"v":-1.5},{"day":58.67,"v":3.7},{"day":58.72,"v":-0.3},{"day":58.79,"v":-6.0},{"day":58.83,"v":1.5},{"day":58.86,"v":3.0},{"day":58.91,"v":0.9},{"day":58.96,"v":-1.0},{"day":59.00,"v":1.2},{"day":59.04,"v":-4.2},{"day":59.08,"v":-0.9},{"day":59.13,"v":-1.0},{"day":59.18,"v":-8.1},{"day":59.24,"v":-14.5},{"day":59.28,"v":-12.5},{"day":59.36,"v":-13.3},{"day":59.40,"v":-2.7},{"day":59.44,"v":-0.6},{"day":59.50,"v":8.9},{"day":59.56,"v":15.2},{"day":59.62,"v":17.6},{"day":59.69,"v":13.7},{"day":59.74,"v":6.3},{"day":59.79,"v":-5.4},{"day":59.82,"v":-5.7},{"day":59.88,"v":-9.1},{"day":59.92,"v":-9.3},{"day":59.97,"v":-12.5},{"day":60.02,"v":-11.5},{"day":60.09,"v":-0.3},{"day":60.13,"v":-5.6},{"day":60.17,"v":-0.8},{"day":60.22,"v":-10.0},{"day":60.26,"v":-6.0},{"day":60.30,"v":-8.1},{"day":60.34,"v":-3.9},{"day":60.43,"v":-20.0},{"day":60.48,"v":-1.2},{"day":60.52,"v":-0.8},{"day":60.57,"v":6.9},{"day":60.64,"v":16.7},{"day":60.67,"v":11.2},{"day":60.71,"v":12.1},{"day":60.77,"v":7.8},{"day":60.81,"v":-2.4},{"day":60.86,"v":-3.9},{"day":60.91,"v":-4.5},{"day":60.96,"v":-6.3},{"day":61.01,"v":-9.9},{"day":61.05,"v":-1.5},{"day":61.10,"v":0.8},{"day":61.15,"v":0.0},{"day":61.19,"v":3.0},{"day":61.22,"v":-3.3},{"day":61.26,"v":1.5},{"day":61.33,"v":-12.8},{"day":61.38,"v":-21.8},{"day":61.43,"v":-27.3},{"day":61.48,"v":-17.6},{"day":61.54,"v":-16.0},{"day":61.57,"v":-15.8},{"day":61.62,"v":-4.2},{"day":61.66,"v":3.3},{"day":61.72,"v":3.3},{"day":61.77,"v":13.7},{"day":61.81,"v":19.1},{"day":61.86,"v":5.7},{"day":61.92,"v":-15.8},{"day":61.98,"v":-29.9},{"day":62.01,"v":-30.2},{"day":62.07,"v":-45.7},{"day":62.11,"v":-35.5},{"day":62.15,"v":-29.9},{"day":62.19,"v":-30.5},{"day":62.24,"v":-24.2},{"day":62.30,"v":-13.6},{"day":62.35,"v":-12.8},{"day":62.39,"v":-9.9},{"day":62.43,"v":-14.9},{"day":62.48,"v":-2.7},{"day":62.52,"v":-8.1},{"day":62.57,"v":0.0},{"day":62.62,"v":-13.1},{"day":62.66,"v":-12.2},{"day":62.73,"v":-6.2},{"day":62.78,"v":-16.7},{"day":62.83,"v":-26.3},{"day":62.88,"v":-26.5},{"day":62.94,"v":-31.6},{"day":62.99,"v":-33.6},{"day":63.04,"v":-26.9},{"day":63.09,"v":-14.3},{"day":63.16,"v":3.0},{"day":63.20,"v":3.0},{"day":63.24,"v":6.4},{"day":63.28,"v":3.3},{"day":63.36,"v":-2.1},{"day":63.41,"v":-14.0},{"day":63.46,"v":-18.5},{"day":63.51,"v":-18.8},{"day":63.54,"v":-16.3},{"day":63.58,"v":-20.8},{"day":63.64,"v":-11.6},{"day":63.71,"v":-3.6},{"day":63.77,"v":5.1},{"day":63.87,"v":10.3},{"day":63.94,"v":2.7},{"day":63.99,"v":-3.3},{"day":64.03,"v":-4.8},{"day":64.08,"v":-3.9},{"day":64.13,"v":-3.9},{"day":64.16,"v":-10.3},{"day":64.24,"v":0.9},{"day":64.28,"v":2.1},{"day":64.33,"v":4.4},{"day":64.37,"v":3.3},{"day":64.42,"v":-1.8},{"day":64.47,"v":-2.7},{"day":64.54,"v":-15.8},{"day":64.61,"v":-19.7},{"day":64.64,"v":-19.6},{"day":64.67,"v":-22.8},{"day":64.72,"v":-16.4},{"day":64.78,"v":-6.0},{"day":64.83,"v":4.0},{"day":64.89,"v":7.5},{"day":64.96,"v":7.2},{"day":65.01,"v":-1.5},{"day":65.05,"v":-5.6},{"day":65.09,"v":-6.7},{"day":65.17,"v":-8.7},{"day":65.22,"v":-14.1},{"day":65.26,"v":-13.9},{"day":65.34,"v":-4.5},{"day":65.41,"v":2.7},{"day":65.46,"v":7.0},{"day":65.52,"v":2.1},{"day":65.59,"v":-3.4},{"day":65.64,"v":-2.2},{"day":65.70,"v":-3.3},{"day":65.76,"v":1.0},{"day":65.81,"v":5.7},{"day":65.87,"v":5.0},{"day":65.91,"v":7.0},{"day":65.95,"v":8.2},{"day":65.99,"v":5.1},{"day":66.07,"v":-3.3},{"day":66.12,"v":-8.4},{"day":66.16,"v":-8.1},{"day":66.19,"v":-12.2},{"day":66.24,"v":-13.7},{"day":66.27,"v":-14.0},{"day":66.31,"v":-9.0},
{"day":66.35,"v":-9.0},{"day":66.40,"v":-6.3},{"day":66.51,"v":-0.2},{"day":66.56,"v":-12.2},{"day":66.59,"v":-13.7},{"day":66.67,"v":-5.0},{"day":66.73,"v":-5.0},{"day":66.80,"v":-0.6},{"day":66.86,"v":9.0},{"day":66.91,"v":14.0},{"day":66.98,"v":19.4},{"day":67.05,"v":15.8},{"day":67.09,"v":-0.3},{"day":67.18,"v":-3.6},{"day":67.23,"v":-4.2},{"day":67.31,"v":0.9},{"day":67.38,"v":13.1},{"day":67.42,"v":14.6},{"day":67.48,"v":23.1},{"day":67.56,"v":21.8},{"day":67.63,"v":10.4},{"day":67.68,"v":1.3},{"day":67.73,"v":1.9},{"day":67.77,"v":0.5},{"day":67.84,"v":16.7},{"day":67.90,"v":26.0},{"day":67.94,"v":30.4},{"day":67.99,"v":27.9},{"day":68.03,"v":27.8},{"day":68.13,"v":10.4},{"day":68.20,"v":-1.7},{"day":68.27,"v":2.4},{"day":68.33,"v":1.8},{"day":68.37,"v":6.6},{"day":68.42,"v":9.3},{"day":68.47,"v":9.3},{"day":68.50,"v":19.7},{"day":68.54,"v":8.2},{"day":68.57,"v":12.4},{"day":68.63,"v":11.3},{"day":68.67,"v":8.5},{"day":68.74,"v":4.2},{"day":68.80,"v":7.3},{"day":68.87,"v":18.9},{"day":68.91,"v":28.7},{"day":68.94,"v":26.0},{"day":69.03,"v":27.8},{"day":69.07,"v":34.1},{"day":69.15,"v":17.3},{"day":69.20,"v":10.7},{"day":69.24,"v":-2.4},{"day":69.32,"v":3.7},{"day":69.38,"v":13.4},{"day":69.44,"v":21.3},{"day":69.52,"v":15.8},{"day":69.58,"v":11.3},{"day":69.66,"v":-1.5},{"day":69.75,"v":-33.3},{"day":69.83,"v":-17.3},{"day":69.87,"v":-17.0},{"day":69.92,"v":-3.9},{"day":69.96,"v":-6.9},{"day":70.02,"v":3.9},{"day":70.08,"v":8.1},{"day":70.12,"v":7.9},{"day":70.21,"v":-0.6},{"day":70.28,"v":-8.4},{"day":70.34,"v":-11.5},{"day":70.39,"v":-0.6},{"day":70.42,"v":-8.8},{"day":70.48,"v":-6.0},{"day":70.51,"v":-10.4},{"day":70.58,"v":-1.5},{"day":70.63,"v":6.7},{"day":70.68,"v":7.4},{"day":70.72,"v":4.2},{"day":70.79,"v":-2.4},{"day":70.85,"v":2.7},{"day":70.89,"v":0.5},{"day":70.92,"v":4.5},{"day":70.96,"v":1.3},{"day":71.02,"v":1.4},{"day":71.05,"v":3.3},{"day":71.09,"v":2.1},{"day":71.13,"v":-2.4},{"day":71.19,"v":3.4},{"day":71.29,"v":-6.9},{"day":71.36,"v":0.3},{"day":71.43,"v":3.9},{"day":71.51,"v":11.0},{"day":71.56,"v":20.9},{"day":71.60,"v":19.5},{"day":71.67,"v":20.9},{"day":71.74,"v":12.2},{"day":71.78,"v":9.3},{"day":71.86,"v":2.1},{"day":71.89,"v":6.0},{"day":71.93,"v":4.2},{"day":71.99,"v":15.8},{"day":72.05,"v":16.8},{"day":72.09,"v":9.4},{"day":72.13,"v":9.9},{"day":72.18,"v":13.3},{"day":72.22,"v":7.5},{"day":72.27,"v":6.4},{"day":72.31,"v":-0.9},{"day":72.36,"v":-6.3},{"day":72.41,"v":-5.9},{"day":72.44,"v":-5.1},{"day":72.50,"v":0.9},{"day":72.55,"v":2.7},{"day":72.62,"v":17.0},{"day":72.67,"v":18.2},{"day":72.73,"v":19.5},{"day":72.78,"v":15.8},{"day":72.85,"v":5.7},{"day":72.90,"v":-0.9},{"day":72.94,"v":-2.4},{"day":72.98,"v":-3.9},{"day":73.03,"v":-2.4},{"day":73.07,"v":0.0},{"day":73.11,"v":-1.4},{"day":73.15,"v":1.6},{"day":73.20,"v":-0.9},{"day":73.24,"v":-1.1},{"day":73.28,"v":-4.5},{"day":73.31,"v":-10.8},{"day":73.38,"v":-15.7},{"day":73.41,"v":-12.2},{"day":73.44,"v":-15.8},{"day":73.48,"v":-20.3},{"day":73.54,"v":-11.5},{"day":73.57,"v":-12.2},{"day":73.61,"v":-11.6},{"day":73.64,"v":-4.8},{"day":73.69,"v":-2.9},{"day":73.73,"v":-2.7},{"day":73.77,"v":-5.1},{"day":73.87,"v":-18.4},{"day":73.92,"v":-14.5},{"day":73.96,"v":-12.8},{"day":74.03,"v":-22.5},{"day":74.08,"v":-11.9},{"day":74.12,"v":-16.1},{"day":74.16,"v":-7.2},{"day":74.22,"v":-6.6},{"day":74.25,"v":-7.0},{"day":74.29,"v":-3.4},{"day":74.35,"v":-8.7},{"day":74.40,"v":-20.6},{"day":74.45,"v":-16.5},{"day":74.50,"v":-26.6},{"day":74.56,"v":-32.5},{"day":74.60,"v":-23.3},{"day":74.65,"v":-18.2},{"day":74.71,"v":-2.4},{"day":74.75,"v":-3.9},{"day":74.82,"v":0.3},{"day":74.87,"v":1.2},{"day":74.94,"v":-10.8},{"day":74.99,"v":-11.4},{"day":75.05,"v":-16.7},{"day":75.12,"v":-21.9},{"day":75.16,"v":-19.9},{"day":75.21,"v":-19.4},{"day":75.28,"v":-14.0},{"day":75.37,"v":-10.0},{"day":75.44,"v":-23.6},{"day":75.49,"v":-36.3},{"day":75.55,"v":-35.2},{"day":75.59,"v":-32.4},{"day":75.63,"v":-34.9},{"day":75.71,"v":-23.3},{"day":75.78,"v":-19.4},{"day":75.84,"v":-7.0},{"day":75.88,"v":-6.3},{"day":75.92,"v":-6.1},{"day":75.98,"v":-23.6},{"day":76.05,"v":-42.2},{"day":76.10,"v":-37.1},{"day":76.15,"v":-39.4},{"day":76.21,"v":-37.0},{"day":76.26,"v":-31.9},{"day":76.30,"v":-10.6},{"day":76.35,"v":-5.4},{"day":76.41,"v":-6.0},{"day":76.46,"v":-7.8},{"day":76.54,"v":-21.5},{"day":76.58,"v":-20.6},{"day":76.63,"v":-27.2},{"day":76.74,"v":-21.2},{"day":76.79,"v":-18.7},{"day":76.85,"v":-10.5},{"day":76.91,"v":-10.2},{"day":76.97,"v":0.6},{"day":77.01,"v":-8.1},{"day":77.07,"v":-9.3},{"day":77.12,"v":-9.4},{"day":77.15,"v":-11.0},{"day":77.22,"v":-12.7},{"day":77.27,"v":-8.1},{"day":77.31,"v":4.4},{"day":77.35,"v":1.4},{"day":77.43,"v":11.2},{"day":77.48,"v":9.0},{"day":77.51,"v":9.0},{"day":77.60,"v":-3.3},{"day":77.63,"v":-1.8},{"day":77.71,"v":-12.0},{"day":77.74,"v":-14.3},{"day":77.80,"v":-1.4},{"day":77.85,"v":-2.7},{"day":77.90,"v":13.6},{"day":77.94,"v":15.2},{"day":77.99,"v":21.1},{"day":78.02,"v":20.0},{"day":78.07,"v":13.4},{"day":78.11,"v":12.2},{"day":78.14,"v":4.2},{"day":78.19,"v":4.2},{"day":78.24,"v":0.0},{"day":78.28,"v":5.4},{"day":78.35,"v":6.0},{"day":78.37,"v":5.7},{"day":78.41,"v":16.5},{"day":78.45,"v":14.6},{"day":78.49,"v":20.4},{"day":78.53,"v":18.5},{"day":78.63,"v":1.5},{"day":78.68,"v":-7.5},{"day":78.76,"v":-7.8},{"day":78.84,"v":6.9},{"day":78.92,"v":22.3},{"day":78.98,"v":24.7},{"day":79.02,"v":29.3},{"day":79.07,"v":28.2},{"day":79.16,"v":16.4},{"day":79.26,"v":8.1},{"day":79.31,"v":1.2},{"day":79.37,"v":4.6},{"day":79.42,"v":6.6},{"day":79.48,"v":6.7},{"day":79.52,"v":4.0},{"day":79.57,"v":4.2},{"day":79.64,"v":10.1},{"day":79.69,"v":11.0},{"day":79.75,"v":13.9},{"day":79.79,"v":13.0},{"day":79.83,"v":16.6},{"day":79.88,"v":16.5},{"day":79.96,"v":27.8},{"day":79.99,"v":34.0},{"day":80.03,"v":33.7},{"day":80.08,"v":42.6},{"day":80.14,"v":30.2},{"day":80.20,"v":13.4},{"day":80.28,"v":4.8},{"day":80.34,"v":1.5},{"day":80.38,"v":6.0},{"day":80.44,"v":5.7},{"day":80.49,"v":19.4},{"day":80.53,"v":20.3},{"day":80.60,"v":29.0},{"day":80.66,"v":33.3},{"day":80.72,"v":24.2},{"day":80.79,"v":19.4},{"day":80.84,"v":14.6},{"day":80.88,"v":16.7},{"day":80.93,"v":12.1},{"day":81.00,"v":26.0},{"day":81.04,"v":22.4},{"day":81.10,"v":22.5},{"day":81.16,"v":20.0},{"day":81.23,"v":10.7},{"day":81.30,"v":-1.8},{"day":81.34,"v":-6.3},{"day":81.38,"v":1.2},{"day":81.44,"v":1.8},{"day":81.50,"v":15.8},{"day":81.55,"v":26.0},{"day":81.60,"v":32.7},{"day":81.64,"v":28.1},{"day":81.68,"v":32.4},{"day":81.72,"v":29.3},{"day":81.77,"v":30.9},{"day":81.83,"v":18.2},{"day":81.90,"v":15.5},{"day":81.98,"v":20.9},{"day":82.04,"v":28.4},{"day":82.10,"v":32.1},{"day":82.14,"v":31.3},{"day":82.18,"v":33.6},{"day":82.23,"v":32.2},{"day":82.31,"v":9.9},{"day":82.36,"v":11.6},{"day":82.40,"v":4.8},{"day":82.44,"v":14.3},{"day":82.49,"v":12.4},{"day":82.53,"v":20.0},{"day":82.62,"v":24.2},{"day":82.68,"v":26.1},{"day":82.73,"v":23.0},{"day":82.81,"v":9.0},{"day":82.86,"v":3.4},{"day":82.89,"v":5.2},{"day":82.94,"v":1.5},{"day":83.0,"v":13.4}
]},
"layer": [
{"mark": {"type": "line", "color": "#0072BD", "strokeWidth": 1.2, "clip": true},
 "encoding": {
  "x": {"field": "day", "type": "quantitative", "scale": {"domain": [0, 83], "nice": false, "zero": false},
   "axis": {"orient": "bottom", "title": null, "values": [0, 13.833333, 27.666667, 41.5, 55.333333, 69.166667, 83],
    "labelExpr": "timeFormat(datetime(2025, 6, 31 + round(datum.value)), '%d %b')",
    "tickSize": -31, "tickColor": "#262626", "tickWidth": 1, "domainColor": "#262626", "domainWidth": 1,
    "labelFont": "DejaVu Sans Mono", "labelFontSize": 22, "labelColor": "#262626", "labelPadding": 38, "labelOffset": -9, "labelAlign": "center", "labelBaseline": "top"}},
  "y": {"field": "v", "type": "quantitative", "scale": {"domain": [-50, 50], "nice": false, "zero": false},
   "axis": {"orient": "left", "values": [-50, -40, -30, -20, -10, 0, 10, 20, 30, 40, 50], "labelExpr": "toString(datum.value)",
    "tickSize": -31, "tickColor": "#262626", "tickWidth": 1, "domainColor": "#262626", "domainWidth": 1,
    "labelFont": "DejaVu Sans Mono", "labelFontSize": 22, "labelColor": "#262626", "labelPadding": 37,
    "title": "cm/s", "titleFont": "DejaVu Sans Mono", "titleFontSize": 40, "titleFontWeight": "normal", "titleColor": "#262626", "titlePadding": 8}}
 }},
{"transform": [{"aggregate": [{"op": "min", "field": "v", "as": "v"}, {"op": "min", "field": "day", "as": "day"}]}],
 "mark": {"type": "point", "opacity": 0},
 "encoding": {
  "x": {"field": "day", "type": "quantitative", "scale": {"domain": [0, 83], "nice": false, "zero": false},
   "axis": {"orient": "bottom", "title": null, "values": [0, 13.833333, 27.666667, 41.5, 55.333333, 69.166667, 83],
    "labelExpr": "'2025'", "domain": false, "tickSize": -31, "tickOpacity": 0,
    "labelFont": "DejaVu Sans Mono", "labelFontSize": 22, "labelColor": "#262626", "labelPadding": 66, "labelOffset": 16, "labelAlign": "center", "labelBaseline": "top"}},
  "y": {"field": "v", "type": "quantitative", "scale": {"domain": [-50, 50], "nice": false, "zero": false},
   "axis": {"orient": "right", "values": [-44.704, -35.7632, -26.8224, -17.8816, -8.9408, 0, 8.9408, 17.8816, 26.8224, 35.7632, 44.704],
    "labelExpr": "toString(round(datum.value / 4.4704) / 10)",
    "tickSize": -31, "tickColor": "#000000", "tickWidth": 1, "domainColor": "#000000", "domainWidth": 1,
    "labelFont": "DejaVu Sans Mono", "labelFontSize": 22, "labelColor": "#000000", "labelPadding": 36,
    "title": "mph", "titleFont": "DejaVu Sans Mono", "titleFontSize": 40, "titleFontWeight": "normal", "titleColor": "#000000", "titleAngle": 270, "titleBaseline": "top", "titlePadding": 8}}
 }}
],
"resolve": {"axis": {"x": "independent", "y": "independent"}}
}
